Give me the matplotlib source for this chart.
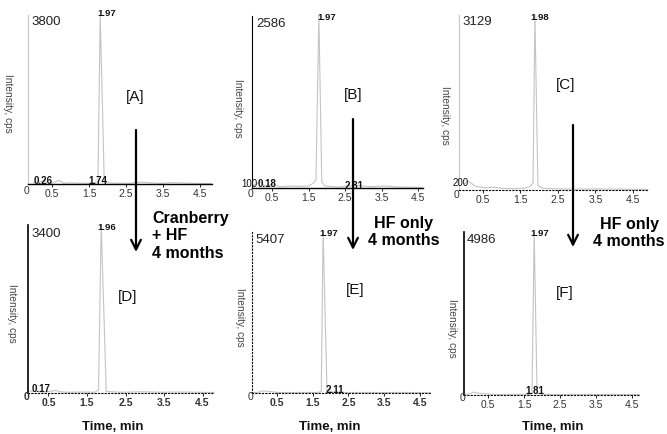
import matplotlib
matplotlib.use("Agg")
import matplotlib.pyplot as plt

plt.rcParams['font.family'] = ['Liberation Sans', 'DejaVu Sans']

W, H = 667, 434

# chromatogram traces (time in min, intensity in cps)
tA = [0.0, 0.26, 0.5, 0.7, 0.8, 1.0, 1.3, 1.6, 1.74, 1.80, 1.91, 2.1, 2.6, 2.9, 3.4, 3.8, 4.3, 4.8]
iA = [30, 60, 20, 80, 20, 25, 15, 20, 60, 3800, 50, 20, 15, 40, 15, 30, 15, 10]

tB = [0.0, 0.18, 0.3, 0.5, 0.7, 1.0, 1.2, 1.5, 1.62, 1.70, 1.78, 1.86, 1.95, 2.3, 2.81, 3.2, 3.6, 4.0, 4.6]
iB = [40, 90, 30, 60, 20, 30, 25, 30, 70, 120, 2586, 90, 30, 15, 40, 20, 30, 15, 10]

tC = [0.0, 0.1, 0.2, 0.3, 0.45, 0.6, 0.8, 1.0, 1.3, 1.6, 1.75, 1.84, 1.89, 1.97, 2.1, 2.5, 3.0, 3.5, 4.0, 4.9]
iC = [100, 160, 120, 70, 50, 40, 50, 30, 25, 30, 60, 120, 3129, 80, 30, 20, 15, 20, 15, 10]

tD = [0.0, 0.17, 0.4, 0.7, 0.8, 1.0, 1.4, 1.7, 1.8, 1.87, 2.0, 2.4, 2.9, 3.4, 3.9, 4.4, 4.8]
iD = [40, 30, 20, 50, 25, 15, 20, 15, 60, 3400, 30, 15, 25, 15, 20, 15, 10]

tE = [-0.2, 0.0, 0.1, 0.3, 0.5, 0.8, 1.2, 1.6, 1.74, 1.79, 1.90, 2.11, 2.5, 3.0, 3.5, 4.0, 4.8]
iE = [10, 30, 70, 50, 20, 15, 20, 15, 40, 5407, 60, 30, 15, 20, 15, 20, 10]

tF = [-0.17, 0.0, 0.1, 0.2, 0.35, 0.6, 1.0, 1.4, 1.65, 1.72, 1.78, 1.86, 2.0, 2.5, 3.0, 3.5, 4.0, 4.7]
iF = [10, 40, 90, 60, 40, 20, 15, 20, 15, 50, 4986, 60, 20, 15, 20, 15, 20, 10]

max_labels = ['3800', '2586', '3129', '3400', '5407', '4986']
panel_names = ['[A]', '[B]', '[C]', '[D]', '[E]', '[F]']
xtick_vals = [0.5, 1.5, 2.5, 3.5, 4.5]

fig = plt.figure(figsize=(W / 100, H / 100), dpi=100)

def make_ax(left, right, bottom, top, xlim):
    ax = fig.add_axes([left / W, 1 - bottom / H, (right - left) / W, (bottom - top) / H])
    ax.set_xlim(*xlim)
    ax.patch.set_alpha(0)
    for s in ['top', 'right']:
        ax.spines[s].set_visible(False)
    ax.set_yticks([])
    ax.set_xticks(xtick_vals)
    ax.set_xticklabels([str(v) for v in xtick_vals])
    ax.tick_params(axis='x', length=2, width=0.6, pad=1.5, labelsize=7.5, labelcolor='#333333')
    return ax

panels = [
    (tA, iA, (28, 212, 184, 15), (-0.15, 4.82)),
    (tB, iB, (252, 423, 188, 16), (-0.05, 4.63)),
    (tC, iC, (459, 648, 190, 15), (-0.13, 4.90)),
    (tD, iD, (28, 213, 393, 225), (-0.03, 4.77)),
    (tE, iE, (252, 432, 393, 232), (-0.20, 4.84)),
    (tF, iF, (464, 640, 395, 232), (-0.17, 4.72)),
]

axes = []
for t, inten, box, xl in panels:
    ax = make_ax(*box, xl)
    ax.set_ylim(0, max(inten))
    ax.plot(t, inten, color='#c4c4c4', lw=0.8, clip_on=False)
    axes.append(ax)

dotted = (0, (1, 2))
# A
axes[0].spines['left'].set_color('#c8c8c8')
axes[0].spines['bottom'].set_linewidth(1.0)
# B
axes[1].spines['bottom'].set_linewidth(1.0)
# C
axes[2].spines['left'].set_color('#c8c8c8')
axes[2].spines['bottom'].set_linestyle(dotted)
# D
axes[3].spines['bottom'].set_linestyle(dotted)
axes[3].spines['left'].set_linewidth(1.2)
# E
axes[4].spines['left'].set_linestyle(dotted)
axes[4].spines['bottom'].set_linestyle(dotted)
# F
axes[5].spines['bottom'].set_linestyle(dotted)
axes[5].spines['left'].set_linewidth(1.2)

for ax in axes[3:5]:
    for lab in ax.get_xticklabels():
        lab.set_fontweight('bold')

# overlay in pixel coordinates for annotations and arrows
ov = fig.add_axes([0, 0, 1, 1])
ov.set_xlim(0, W)
ov.set_ylim(H, 0)
ov.axis('off')
ov.patch.set_alpha(0)

# max intensity labels
for s, (x, y) in zip(max_labels, [(31, 22), (256, 24), (462, 22), (31, 234), (255, 240), (467, 240)]):
    ov.text(x, y, s, fontsize=9.5, color='#222222', va='center', ha='left')

# panel labels
for s, (x, y) in zip(panel_names, [(135, 97), (353, 95), (566, 85), (128, 297), (355, 290), (565, 293)]):
    ov.text(x, y, s, fontsize=11, color='#111111', va='center', ha='center')

# y axis titles
for x, y in [(8, 103), (238, 108), (445, 115), (12, 313), (240, 317), (452, 328)]:
    ov.text(x, y, 'Intensity, cps', fontsize=7.3, color='#444444', rotation=-90, va='center', ha='center')

# peak labels
for s, (x, y) in zip(['1.97', '1.97', '1.98', '1.96', '1.97', '1.97'],
                     [(107, 14), (327, 18), (540, 17), (107, 227), (329, 233), (540, 233)]):
    ov.text(x, y, s, fontsize=6.8, fontweight='bold', color='#111111', va='center', ha='center')

# baseline labels
base_labels = [('0.26', 43, 181, 'bold'), ('1.74', 98, 181, 'bold'), ('100', 249, 184, 'normal'),
               ('0.18', 267, 184, 'bold'), ('2.81', 354, 186, 'bold'), ('200', 461, 183, 'normal'),
               ('0.17', 41, 389, 'bold'), ('2.11', 335, 390, 'bold'), ('1.81', 535, 391, 'bold')]
for s, x, y, fw in base_labels:
    ov.text(x, y, s, fontsize=7, fontweight=fw, color='#111111', va='center', ha='center')

# zero labels at corners
for x, y, fw in [(27, 191, 'normal'), (251, 194, 'normal'), (457, 195, 'normal'),
                 (27, 397, 'bold'), (251, 397, 'normal'), (463, 398, 'normal')]:
    ov.text(x, y, '0', fontsize=7.5, fontweight=fw, color='#333333', va='center', ha='center')

# x axis titles
for x in [113, 330, 553]:
    ov.text(x, 427, 'Time, min', fontsize=9.5, fontweight='bold', color='#111111', va='center', ha='center')

# arrows
for x, y0, y1 in [(136, 130, 252), (353, 119, 250), (573, 125, 247)]:
    ov.annotate('', xy=(x, y1), xytext=(x, y0),
                arrowprops=dict(arrowstyle='->,head_length=0.7,head_width=0.35', lw=1.6, color='black',
                                shrinkA=0, shrinkB=0))

ov.text(152, 236, 'Cranberry\n+ HF\n4 months', fontsize=11.5, fontweight='bold', va='center', ha='left',
        linespacing=1.25)
ov.text(404, 232, 'HF only\n4 months', fontsize=11.5, fontweight='bold', va='center', ha='center',
        linespacing=1.15)
ov.text(629, 233, 'HF only\n4 months', fontsize=11.5, fontweight='bold', va='center', ha='center',
        linespacing=1.15)

fig.savefig('out.png', dpi=100)
